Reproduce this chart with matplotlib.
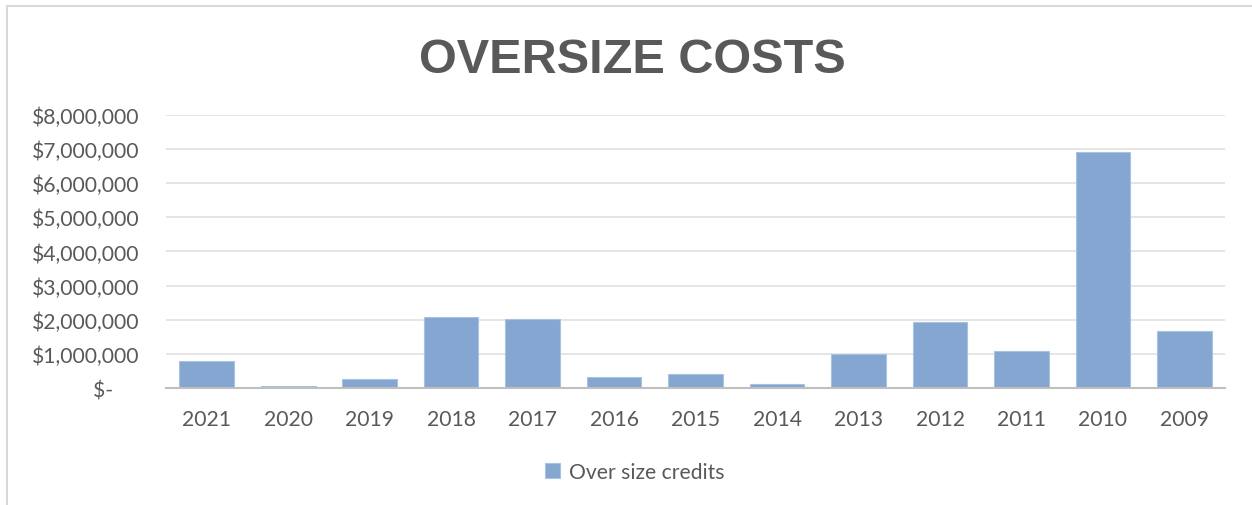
import matplotlib.pyplot as plt
from matplotlib.patches import Rectangle
from matplotlib.ticker import FuncFormatter

years = ["2021", "2020", "2019", "2018", "2017", "2016", "2015",
         "2014", "2013", "2012", "2011", "2010", "2009"]
credits = [780000, 60000, 280000, 2070000, 2010000, 340000, 400000,
           110000, 990000, 1930000, 1090000, 6910000, 1680000]

BAR = "#84A6D0"
TEXT = "#595959"


def money(v, pos):
    if v == 0:
        return "$-     "
    return "${:,.0f}".format(v)


def main():
    fig = plt.figure(figsize=(12.52, 5.06), dpi=100)
    plt.rcParams["font.family"] = ["Lato", "DejaVu Sans"]

    # light frame round the chart
    fig.patches.append(Rectangle((7 / 1252, -0.05), 1.2, 1.05 - 7 / 506,
                                 transform=fig.transFigure, fill=False,
                                 edgecolor="#d9d9d9", linewidth=1.5))

    ax = fig.add_axes([0.1326, 0.231, 0.846, 0.540])
    x = range(len(years))
    ax.bar(x, credits, width=0.67, color=BAR, edgecolor="#a9c2e2",
           linewidth=0.8, label="Over size credits", zorder=3)

    ax.set_ylim(0, 8000000)
    ax.set_xlim(-0.5, len(years) - 0.5)
    ax.set_yticks(range(0, 8000001, 1000000))
    ax.yaxis.set_major_formatter(FuncFormatter(money))
    ax.set_xticks(list(x))
    ax.set_xticklabels(years)

    ax.grid(axis="y", color="#e3e3e3", linewidth=1.3, zorder=0)
    for s in ["top", "right", "left"]:
        ax.spines[s].set_visible(False)
    ax.spines["bottom"].set_color("#bfbfbf")
    ax.spines["bottom"].set_linewidth(1.5)
    ax.spines["bottom"].set_zorder(4)
    ax.tick_params(axis="both", length=0, labelsize=15.2, colors=TEXT)
    ax.tick_params(axis="y", pad=19)
    ax.tick_params(axis="x", pad=15)

    fig.text(0.505, 0.880, "OVERSIZE COSTS", ha="center", va="center",
             fontsize=35, fontweight="bold", color=TEXT,
             family=["Liberation Sans", "DejaVu Sans"])

    fig.legend(loc="center", bbox_to_anchor=(0.507, 0.065), frameon=False,
               fontsize=15.2, labelcolor=TEXT, handlelength=0.7,
               handleheight=0.7, handletextpad=0.4)

    fig.savefig("out.png", dpi=100)


if __name__ == "__main__":
    main()
